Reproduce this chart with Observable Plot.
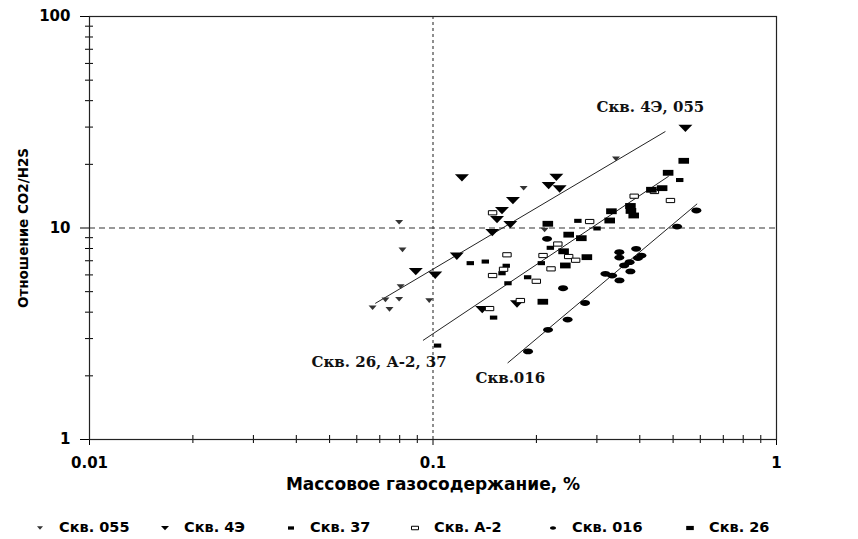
<!DOCTYPE html>
<html><head><meta charset="utf-8">
<script src="https://cdn.jsdelivr.net/npm/d3@7"></script>
<script src="https://cdn.jsdelivr.net/npm/@observablehq/plot@0.6"></script>
<style>
body{margin:0;background:#fff;}
#wrap{position:relative;width:858px;height:539px;overflow:hidden;background:#fff;}
#legend{position:absolute;left:0;top:517px;width:858px;height:20px;font:bold 14.5px "DejaVu Sans",sans-serif;color:#000;}
#legend .it{position:absolute;top:0;height:20px;line-height:20px;white-space:nowrap;}
#legend svg{vertical-align:middle;margin-right:12px;}
</style></head>
<body><div id="wrap"><div id="chart"></div><div id="legend"></div></div>
<script>
// ---- data ----
const s055x = [0.0667,0.0727,0.0747,0.0797,0.0797,0.0805,0.0815,0.0975,0.1836,0.2113,0.341];
const s055y = [4.20,4.58,4.13,4.61,10.65,5.29,7.89,4.54,15.43,9.80,21.24];
const s4Ex = [0.543,0.2286,0.2171,0.2337,0.1214,0.1709,0.1588,0.1536,0.1679,0.1488,0.1173,0.0891,0.1015,0.1391,0.1756];
const s4Ey = [29.65,17.39,15.89,15.32,17.28,13.49,12.10,10.97,10.39,9.52,7.37,6.23,5.99,4.12,4.38];
const s37x = [0.1284,0.1420,0.1634,0.1588,0.1653,0.1501,0.1031,0.1886,0.2067,0.2196,0.2641,0.3003,0.5227];
const s37y = [6.82,6.94,6.63,6.11,5.48,3.77,2.78,5.85,6.82,8.06,10.81,9.95,16.86];
const sA2x = [0.1491,0.1642,0.1605,0.1491,0.2091,0.2309,0.2206,0.2483,0.2602,0.1999,0.2858,0.1796,0.1461,0.3852,0.4411,0.4912];
const sA2y = [11.80,7.47,6.38,5.96,7.41,8.40,6.41,7.33,7.04,5.60,10.73,4.54,4.16,14.14,14.88,13.49];
const s016x = [0.2148,0.2391,0.2771,0.2466,0.2162,0.1891,0.3487,0.3487,0.3903,0.4044,0.3950,0.3735,0.3602,0.3756,0.3176,0.3322,0.3490,0.5136,0.5845];
const s016y = [8.89,5.19,4.42,3.69,3.30,2.61,7.68,7.25,7.97,7.41,7.21,6.89,6.65,6.23,6.07,5.96,5.65,10.16,12.10];
const s26x = [0.2159,0.2483,0.2703,0.2400,0.2428,0.2805,0.2088,0.3307,0.3269,0.3756,0.3769,0.3840,0.4323,0.4645,0.4836,0.5370];
const s26y = [10.47,9.30,8.95,7.76,6.65,7.28,4.48,12.00,10.85,12.71,12.04,11.46,15.16,15.43,18.24,20.78];

const trendX1 = [0.0679,0.0935,0.1649];
const trendY1 = [4.40,2.94,2.30];
const trendX2 = [0.4749,0.4856,0.5875];
const trendY2 = [28.6,17.58,13.01];

const labelText = ["Скв. 4Э, 055","Скв. 26, А-2, 37","Скв.016"];
const labelX = [0.4295,0.0697,0.1679];
const labelY = [37.1,2.31,1.96];

const xTickLabels = [0.01,0.1,1];
const yTickLabels = [1,10,100];
const xMinor = [0.02,0.03,0.04,0.05,0.06,0.07,0.08,0.09,0.2,0.3,0.4,0.5,0.6,0.7,0.8,0.9];
const yMinor = [2,3,4,5,6,7,8,9,20,30,40,50,60,70,80,90];

const seriesNames = ["Скв. 055","Скв. 4Э","Скв. 37","Скв. А-2","Скв. 016","Скв. 26"];

// ---- symbols ----
function triDown(top, bot){return {draw(c,size){const r=Math.sqrt(size/Math.PI);c.moveTo(-r,-top*r);c.lineTo(r,-top*r);c.lineTo(0,bot*r);c.closePath();}};}
function rectSym(h){return {draw(c,size){const r=Math.sqrt(size/Math.PI);c.rect(-r,-h*r,2*r,2*h*r);}};}
function ellSym(h){return {draw(c,size){const a=Math.sqrt(size/Math.PI),b=h*a,k=0.5523;
  c.moveTo(a,0);c.bezierCurveTo(a,k*b,k*a,b,0,b);c.bezierCurveTo(-k*a,b,-a,k*b,-a,0);
  c.bezierCurveTo(-a,-k*b,-k*a,-b,0,-b);c.bezierCurveTo(k*a,-b,a,-k*b,a,0);c.closePath();}};}

const styles = [
  {xs:s055x, ys:s055y, symbol:triDown(0.55,0.6), r:4, fill:"#333", stroke:"none"},
  {xs:s4Ex, ys:s4Ey, symbol:triDown(0.5,0.55), r:7, fill:"#000", stroke:"none"},
  {xs:s37x, ys:s37y, symbol:rectSym(0.55), r:3.7, fill:"#000", stroke:"none"},
  {xs:sA2x, ys:sA2y, symbol:rectSym(0.5), r:4.2, fill:"#fff", stroke:"#000"},
  {xs:s016x, ys:s016y, symbol:ellSym(0.58), r:5, fill:"#000", stroke:"none"},
  {xs:s26x, ys:s26y, symbol:rectSym(0.55), r:5.3, fill:"#000", stroke:"none"}
];

const W = 858, H = 505, mL = 89, mR = 82, mT = 16, mB = 66;
const plotW = W - mL - mR, plotH = H - mT - mB;
const trends = trendX1.map((d,i)=>({x1:d,y1:trendY1[i],x2:trendX2[i],y2:trendY2[i]}));
const labels = labelText.map((t,i)=>({t,x:labelX[i],y:labelY[i]}));

const dotMarks = styles.map(s => Plot.dot(s.xs.map((x,i)=>({x,y:s.ys[i]})), {
  x:"x", y:"y", symbol:s.symbol, r:s.r, fill:s.fill, stroke:s.stroke, strokeWidth:1
}));

const chart = Plot.plot({
  width: W, height: H,
  marginLeft: mL, marginRight: mR, marginTop: mT, marginBottom: mB,
  x: {type:"log", domain:[0.01,1], axis:null},
  y: {type:"log", domain:[1,100], axis:null},
  style: {fontFamily:"'DejaVu Sans',sans-serif", background:"#fff", color:"#000"},
  marks: [
    Plot.ruleX([0.1], {x:d=>d, stroke:"#444", strokeWidth:1.2, strokeDasharray:"3,3"}),
    Plot.ruleY([10], {y:d=>d, stroke:"#333", strokeWidth:1.2, strokeDasharray:"6,4"}),
    Plot.ruleX(xMinor, {x:d=>d, insetTop:plotH-4, insetBottom:-4, stroke:"#000"}),
    Plot.ruleX(xTickLabels, {x:d=>d, insetTop:plotH, insetBottom:-6, stroke:"#000"}),
    Plot.ruleY(yMinor, {y:d=>d, insetLeft:-4, insetRight:plotW-4, stroke:"#000"}),
    Plot.ruleY(yTickLabels, {y:d=>d, insetLeft:-9, insetRight:plotW, stroke:"#000"}),
    Plot.frame({stroke:"#222", strokeWidth:1.2}),
    Plot.link(trends, {x1:"x1", y1:"y1", x2:"x2", y2:"y2", stroke:"#222", strokeWidth:1}),
    ...dotMarks,
    Plot.text(labels, {x:"x", y:"y", text:"t", fontFamily:"'DejaVu Serif',serif", fontWeight:"bold", fontSize:15, fill:"#111"}),
    Plot.text(yTickLabels, {y:d=>d, text:d=>String(d), frameAnchor:"left", textAnchor:"end", dx:-19, fontWeight:"bold", fontSize:15}),
    Plot.text(xTickLabels, {x:d=>d, text:d=>String(d), frameAnchor:"bottom", lineAnchor:"middle", dy:24, fontWeight:"bold", fontSize:15}),
    Plot.text(["Массовое газосодержание, %"], {frameAnchor:"bottom", textAnchor:"middle", lineAnchor:"middle", dy:45, fontWeight:"bold", fontSize:17}),
    Plot.text(["Отношение CO2/H2S"], {frameAnchor:"left", textAnchor:"middle", lineAnchor:"middle", rotate:-90, dx:-66, fontWeight:"bold", fontSize:13.5})
  ]
});
document.getElementById("chart").appendChild(chart);

// ---- legend ----
const legendLeft = [33,158,284,408,546,683];
const legendR = [3,4,3,3.5,3,3.8];
const leg = d3.select("#legend");
seriesNames.forEach((name,i)=>{
  const s = styles[i];
  const it = leg.append("span").attr("class","it").style("left", legendLeft[i]+"px");
  const svg = it.append("svg").attr("width",14).attr("height",14).attr("viewBox","-7 -7 14 14");
  svg.append("path").attr("d", d3.symbol(s.symbol, Math.PI*legendR[i]*legendR[i])())
    .attr("fill", s.fill).attr("stroke", s.stroke).attr("stroke-width",1);
  it.append("span").text(name);
});
</script></body></html>
